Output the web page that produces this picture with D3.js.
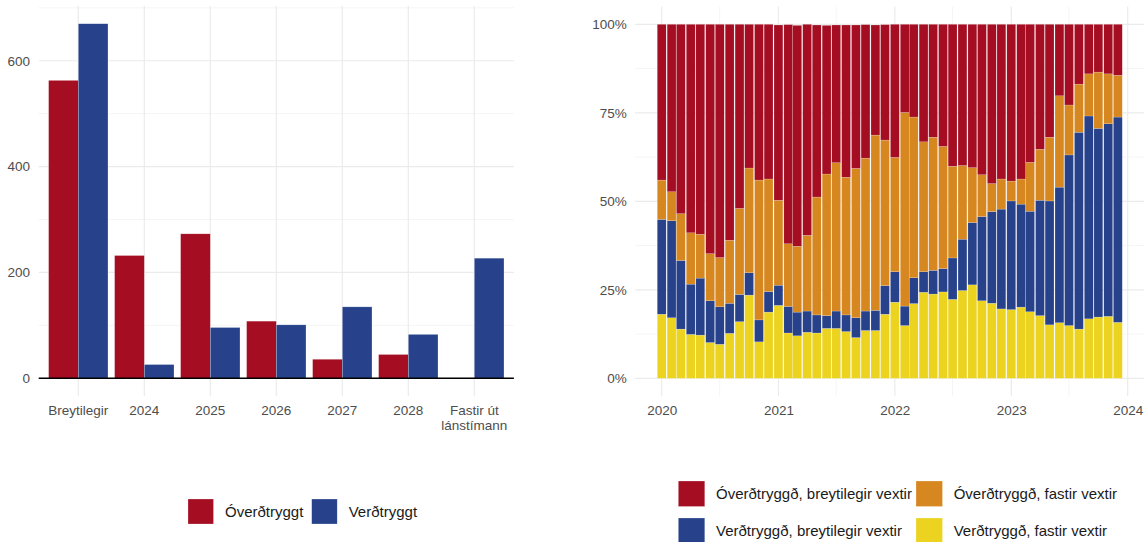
<!DOCTYPE html>
<html><head><meta charset="utf-8">
<script src="https://cdn.jsdelivr.net/npm/d3@7"></script>
<style>body{margin:0;background:#fff}svg{display:block;font-family:"Liberation Sans",Arial,Helvetica,sans-serif}</style>
</head><body><svg id="c" width="1144" height="542"></svg>
<script>
// ---------- LEFT CHART DATA ----------
const leftCategories = ["Breytilegir","2024","2025","2026","2027","2028","Fastir út\nlánstímann"];
const leftSeries = ["Óverðtryggt","Verðtryggt"];
const overdtryggt = [563,232,273,108,36,45,0];
const verdtryggt  = [670,26,96,101,135,83,227];
const leftTicks = [0,200,400,600];
const leftMinorTicks = [100,300,500,700];

// ---------- RIGHT CHART DATA ----------
const months = ["2020-01","2020-02","2020-03","2020-04","2020-05","2020-06","2020-07","2020-08","2020-09","2020-10","2020-11","2020-12",
"2021-01","2021-02","2021-03","2021-04","2021-05","2021-06","2021-07","2021-08","2021-09","2021-10","2021-11","2021-12",
"2022-01","2022-02","2022-03","2022-04","2022-05","2022-06","2022-07","2022-08","2022-09","2022-10","2022-11","2022-12",
"2023-01","2023-02","2023-03","2023-04","2023-05","2023-06","2023-07","2023-08","2023-09","2023-10","2023-11","2023-12"];
const rightSeries = ["Verðtryggð, fastir vextir","Verðtryggð, breytilegir vextir","Óverðtryggð, fastir vextir","Óverðtryggð, breytilegir vextir"];
const verdFastir = [18.1,17.1,13.9,12.4,12.2,10.1,9.6,12.7,16.0,23.5,10.3,18.7,20.6,12.8,12.0,13.0,12.8,14.1,14.1,13.2,11.5,13.5,13.5,18.1,21.5,14.9,21.1,24.3,23.8,24.4,22.3,24.8,26.4,21.9,21.2,19.6,19.4,20.1,18.8,17.7,15.1,15.7,14.9,13.9,16.8,17.3,17.5,15.8];
const verdBreyt = [26.8,27.4,19.4,14.2,16.1,11.8,10.6,8.5,7.7,6.3,6.2,5.8,5.7,7.5,6.7,6.0,5.1,3.6,4.9,4.7,5.6,5.5,5.7,8.1,8.6,5.5,7.3,5.8,6.7,6.6,11.7,14.5,17.6,23.8,25.9,28.2,30.7,29.1,28.4,32.6,35.0,38.3,48.2,55.6,57.3,53.3,54.4,58.0];
const overdFastir = [11.1,8.2,13.2,14.5,12.4,13.3,13.9,17.8,24.3,29.6,39.5,31.8,24.0,17.7,18.6,21.4,33.3,40.0,41.9,38.9,42.2,43.2,49.5,41.1,32.3,54.7,45.4,36.7,37.6,34.5,25.9,20.8,15.5,11.8,7.9,8.5,5.6,7.1,13.8,14.4,18.0,25.8,14.1,13.6,11.9,15.9,14.1,11.8];
const overdBreyt = [44.0,47.3,53.5,58.9,59.3,64.8,65.9,61.0,52.0,40.6,44.0,43.7,49.5,61.9,62.4,59.6,48.6,42.0,38.9,43.0,40.5,37.7,31.1,32.6,37.6,24.9,26.2,33.2,31.9,34.5,40.1,39.9,40.5,42.5,45.0,43.7,44.3,43.7,39.0,35.3,31.9,20.2,22.8,16.9,14.0,13.5,14.0,14.4];
const rightTicks = [0,0.25,0.5,0.75,1];
const rightMinorTicks = [0.125,0.375,0.625,0.875];
const yearTicks = ["2020-01-01","2021-01-01","2022-01-01","2023-01-01","2024-01-01"];
const yearMinorTicks = ["2020-07-01","2021-07-01","2022-07-01","2023-07-01"];

// ---------- COLOURS ----------
const RED="#a50d22", BLUE="#27428a", ORANGE="#d6871f", YELLOW="#ebd31f";
const GRID="#ebebeb", GRIDMINOR="#f3f3f3", TICKTXT="#4d4d4d";

const svg = d3.select("#c");
const FS = 13.5, LFS = 15;

// ================= LEFT =================
const L = {x0:38.7, x1:513.9, y0:6, y1:396};
const x0 = d3.scaleBand().domain(leftCategories).range([L.x0,L.x1]).paddingInner(0.1).paddingOuter(0.15);
const x1 = d3.scaleBand().domain(leftSeries).range([0,x0.bandwidth()]);
const yL = d3.scaleLinear().domain([-33.5,703.5]).range([L.y1,L.y0]);
const gL = svg.append("g");
gL.selectAll(".hmin").data(leftMinorTicks).join("line")
  .attr("x1",L.x0).attr("x2",L.x1).attr("y1",d=>yL(d)).attr("y2",d=>yL(d))
  .attr("stroke",GRIDMINOR).attr("stroke-width",0.8);
gL.selectAll(".hmaj").data(leftTicks).join("line")
  .attr("x1",L.x0).attr("x2",L.x1).attr("y1",d=>yL(d)).attr("y2",d=>yL(d))
  .attr("stroke",GRID).attr("stroke-width",1.2);
gL.selectAll(".vmaj").data(leftCategories).join("line")
  .attr("x1",d=>x0(d)+x0.bandwidth()/2).attr("x2",d=>x0(d)+x0.bandwidth()/2)
  .attr("y1",L.y0).attr("y2",L.y1).attr("stroke",GRID).attr("stroke-width",1.2);
const leftRows = leftCategories.map((c,i)=>({cat:c, vals:[{k:leftSeries[0],v:overdtryggt[i]},{k:leftSeries[1],v:verdtryggt[i]}]}));
const colL = d3.scaleOrdinal().domain(leftSeries).range([RED,BLUE]);
gL.selectAll(".grp").data(leftRows).join("g")
  .attr("transform",d=>`translate(${x0(d.cat)},0)`)
  .selectAll("rect").data(d=>d.vals).join("rect")
  .attr("x",d=>x1(d.k)).attr("width",x1.bandwidth())
  .attr("y",d=>yL(Math.max(0,d.v))).attr("height",d=>Math.abs(yL(0)-yL(d.v)))
  .attr("fill",d=>colL(d.k)).attr("stroke","#fff").attr("stroke-opacity",0.5).attr("stroke-width",0.5);
gL.append("line").attr("x1",L.x0).attr("x2",L.x1).attr("y1",yL(0)).attr("y2",yL(0))
  .attr("stroke","#000").attr("stroke-width",1.6);
const axLy = gL.append("g").attr("transform",`translate(${L.x0},0)`)
  .call(d3.axisLeft(yL).tickValues(leftTicks).tickSize(0).tickPadding(8.7));
axLy.select(".domain").remove();
axLy.selectAll("text").attr("font-size",FS).attr("fill",TICKTXT).attr("font-family",null);
const axLx = gL.append("g").attr("transform",`translate(0,${L.y1})`)
  .call(d3.axisBottom(x0).tickSize(0).tickPadding(9.0));
axLx.select(".domain").remove();
axLx.selectAll("text").attr("font-size",FS).attr("fill",TICKTXT).attr("font-family",null)
  .each(function(d){
    const parts = d.split("\n");
    if(parts.length>1){
      const t = d3.select(this); t.text(null);
      parts.forEach((p,i)=>t.append("tspan").attr("x",0).attr("dy",i===0?"0.71em":"15px").text(p));
      t.attr("dy",null);
    }
  });
const legL = svg.append("g");
leftSeries.forEach((s,i)=>{
  const lx=[188,311.7][i];
  legL.append("rect").attr("x",lx).attr("y",499).attr("width",25.5).attr("height",25)
    .attr("fill",colL(s)).attr("stroke","#fff").attr("stroke-opacity",0.5).attr("stroke-width",0.5);
  legL.append("text").attr("x",lx+37).attr("y",511.8).attr("dy","0.35em").attr("font-size",LFS).attr("fill","#1a1a1a").text(s);
});

// ================= RIGHT =================
const R = {x0:635, x1:1146, y0:6.6, y1:396};
const parse = d3.timeParse("%Y-%m-%d");
const parseM = d3.timeParse("%Y-%m");
const xR = d3.scaleTime().domain([parse("2020-01-01"),parse("2024-01-01")]).range([661.7,1127.7]);
const yR = d3.scaleLinear().domain([-0.05,1.05]).range([R.y1,R.y0]);
const gR = svg.append("g");
gR.selectAll(".hmin").data(rightMinorTicks).join("line")
  .attr("x1",R.x0).attr("x2",R.x1).attr("y1",d=>yR(d)).attr("y2",d=>yR(d))
  .attr("stroke",GRIDMINOR).attr("stroke-width",0.8);
gR.selectAll(".vmin").data(yearMinorTicks).join("line")
  .attr("x1",d=>xR(parse(d))).attr("x2",d=>xR(parse(d))).attr("y1",R.y0).attr("y2",R.y1)
  .attr("stroke",GRIDMINOR).attr("stroke-width",0.8);
gR.selectAll(".hmaj").data(rightTicks).join("line")
  .attr("x1",R.x0).attr("x2",R.x1).attr("y1",d=>yR(d)).attr("y2",d=>yR(d))
  .attr("stroke",GRID).attr("stroke-width",1.2);
gR.selectAll(".vmaj").data(yearTicks).join("line")
  .attr("x1",d=>xR(parse(d))).attr("x2",d=>xR(parse(d))).attr("y1",R.y0).attr("y2",R.y1)
  .attr("stroke",GRID).attr("stroke-width",1.2);

const rows = months.map((m,i)=>({date:parseM(m),
  [rightSeries[0]]:verdFastir[i]/100,[rightSeries[1]]:verdBreyt[i]/100,
  [rightSeries[2]]:overdFastir[i]/100,[rightSeries[3]]:overdBreyt[i]/100}));
const stack = d3.stack().keys(rightSeries)(rows);
const colR = d3.scaleOrdinal().domain(rightSeries).range([YELLOW,BLUE,ORANGE,RED]);
const mStep = xR(parseM("2020-02"))-xR(parseM("2020-01"));
const bw = mStep*0.9;
gR.selectAll(".layer").data(stack).join("g").attr("fill",d=>colR(d.key))
  .selectAll("rect").data(d=>d).join("rect")
  .attr("x",d=>xR(d.data.date)-bw/2).attr("width",bw)
  .attr("y",d=>yR(d[1])).attr("height",d=>yR(d[0])-yR(d[1]))
  .attr("stroke","#fff").attr("stroke-opacity",0.45).attr("stroke-width",0.4);

const axRy = gR.append("g").attr("transform",`translate(${R.x0},0)`)
  .call(d3.axisLeft(yR).tickValues(rightTicks).tickFormat(d3.format(".0%")).tickSize(0).tickPadding(8.3));
axRy.select(".domain").remove();
axRy.selectAll("text").attr("font-size",FS).attr("fill",TICKTXT).attr("font-family",null);
const axRx = gR.append("g").attr("transform",`translate(0,${R.y1})`)
  .call(d3.axisBottom(xR).tickValues(yearTicks.map(parse)).tickFormat(d3.timeFormat("%Y")).tickSize(0).tickPadding(9.0));
axRx.select(".domain").remove();
axRx.selectAll("text").attr("font-size",FS).attr("fill",TICKTXT).attr("font-family",null);

const legOrder = [
  {k:rightSeries[3], x:678.3, y:481},
  {k:rightSeries[2], x:916, y:481},
  {k:rightSeries[1], x:678.3, y:518},
  {k:rightSeries[0], x:916, y:518}
];
const legR = svg.append("g");
legOrder.forEach(o=>{
  legR.append("rect").attr("x",o.x).attr("y",o.y).attr("width",26.5).attr("height",25.5)
    .attr("fill",colR(o.k)).attr("stroke","#fff").attr("stroke-opacity",0.5).attr("stroke-width",0.5);
  legR.append("text").attr("x",o.x+37.7).attr("y",o.y+13).attr("dy","0.35em").attr("font-size",LFS).attr("fill","#1a1a1a").text(o.k);
});
</script></body></html>
